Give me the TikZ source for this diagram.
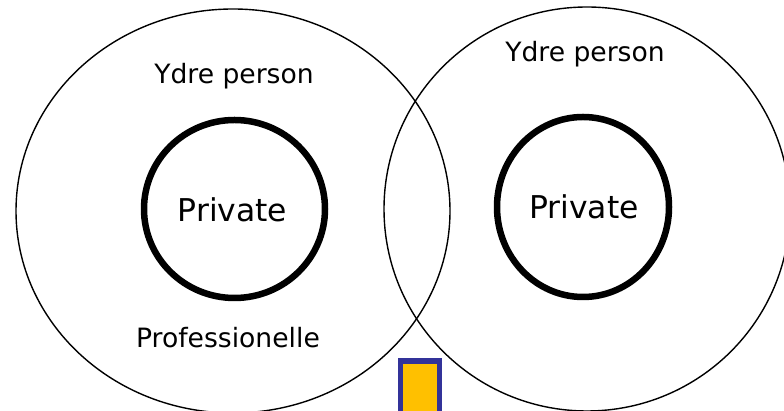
\documentclass[tikz,border=0pt]{standalone}
\usepackage{fontspec}
\setmainfont{DejaVu Sans}
\usetikzlibrary{shapes.geometric}
\definecolor{boxorange}{HTML}{FFC000}
\definecolor{boxblue}{HTML}{333399}
\tikzset{
  outer/.style={draw=black, line width=1.4pt, ellipse, inner sep=0pt},
  inner/.style={draw=black, line width=6.5pt, ellipse, inner sep=0pt},
  lbl/.style={inner sep=0pt, font=\fontsize{26.6}{30}\selectfont},
  big/.style={inner sep=0pt, font=\fontsize{31.4}{36}\selectfont},
}
\begin{document}
\begin{tikzpicture}[x=1pt,y=1pt]
\useasboundingbox (0,0) rectangle (784,411);
\clip (0,0) rectangle (784,411);
\fill[white] (0,0) rectangle (784,411);
\node[outer, minimum width=434pt, minimum height=404pt] (L) at (233,200) {};
\node[outer, minimum width=406pt, minimum height=404pt] (R) at (587,202) {};
\node[inner, minimum width=181pt, minimum height=178pt] (Li) at (234.5,202) {};
\node[inner, minimum width=172pt, minimum height=180pt] (Ri) at (583,204) {};
\node[big] (Lp) at (232.5,201) {Private};
\node[big] (Rp) at (584,204) {Private};
\node[lbl] (Ly) at (234,335) {Ydre person};
\node[lbl] (Ry) at (585,357) {Ydre person};
\node[lbl] (Lpro) at (228,73) {Professionelle};
\draw[boxblue, fill=boxorange, line width=5.5pt] (400.5,-10) rectangle (439.5,50) coordinate (B);
\end{tikzpicture}
\end{document}
